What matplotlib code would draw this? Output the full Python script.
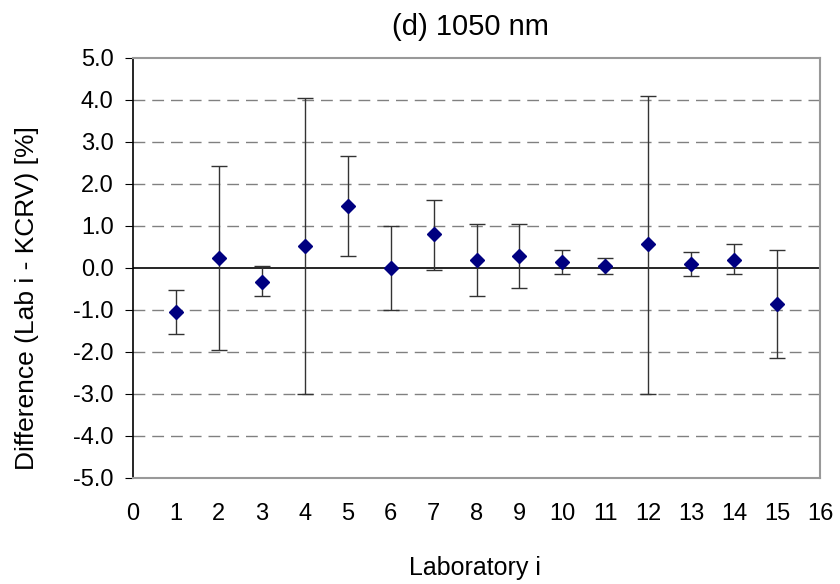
import matplotlib
matplotlib.use("Agg")
import matplotlib.pyplot as plt
import numpy as np

plt.rcParams['font.family'] = ['Liberation Sans', 'DejaVu Sans']

labs = [1, 2, 3, 4, 5, 6, 7, 8, 9, 10, 11, 12, 13, 14, 15]
diff = [-1.05, 0.24, -0.33, 0.52, 1.48, 0.00, 0.81, 0.19, 0.28, 0.14, 0.04, 0.57, 0.10, 0.19, -0.86]
upper = [-0.52, 2.42, 0.04, 4.05, 2.66, 1.00, 1.61, 1.05, 1.05, 0.43, 0.24, 4.10, 0.38, 0.57, 0.43]
lower = [-1.57, -1.95, -0.67, -3.00, 0.28, -1.00, -0.05, -0.67, -0.48, -0.14, -0.14, -3.00, -0.19, -0.14, -2.14]
yticks = [-5.0, -4.0, -3.0, -2.0, -1.0, 0.0, 1.0, 2.0, 3.0, 4.0, 5.0]
xticks = list(range(0, 17))

W, H = 840, 584
fig = plt.figure(figsize=(W/100, H/100), dpi=100)
ax = fig.add_axes([133/W, 1 - 478/H, (820-133)/W, (478-58)/H])

d = np.array(diff)
yerr = [d - np.array(lower), np.array(upper) - d]

for y in yticks:
    if y not in (0.0, 5.0, -5.0):
        ax.axhline(y, color='#808080', lw=1.0, ls=(0, (8.5, 5)), zorder=1)
ax.axhline(0, color='black', lw=1.2, zorder=2)

ax.errorbar(labs, diff, yerr=yerr, fmt='D', color='#000080', markersize=7,
            ecolor='#333333', elinewidth=1.0, capsize=6, capthick=1.0, zorder=3)

ax.set_xlim(0, 16)
ax.set_ylim(-5, 5)
ax.set_xticks(xticks)
ax.set_yticks(yticks)
ax.set_yticklabels([f"{v:.1f}" for v in yticks])
ax.tick_params(axis='x', length=0, pad=18, labelsize=17)
ax.tick_params(axis='y', length=6, direction='out', pad=8, labelsize=17)

for s in ['top', 'right', 'bottom']:
    ax.spines[s].set_color('#999999')
    ax.spines[s].set_linewidth(1.5)
ax.spines['left'].set_color('black')
ax.spines['left'].set_linewidth(1.2)

fig.text(470/W, 1 - 27/H, '(d) 1050 nm', fontsize=21, ha='center', va='center')
fig.text(27/W, 1 - 298/H, 'Difference (Lab i - KCRV) [%]', fontsize=19,
         rotation=90, ha='center', va='center')
fig.text(475/W, 1 - 568/H, 'Laboratory i', fontsize=18, ha='center', va='center')

fig.savefig('out.png', dpi=100)
